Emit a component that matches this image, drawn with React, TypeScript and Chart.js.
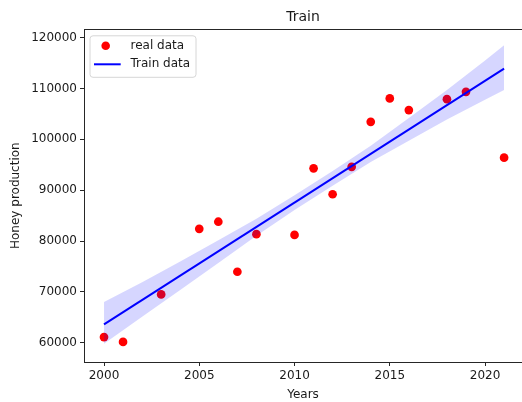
import { useEffect, useRef } from "react";
import { Chart, registerables } from "chart.js";

Chart.register(...registerables);

// Scatter data (real data)
const years = [2000, 2001, 2003, 2005, 2006, 2007, 2008, 2010, 2011, 2012, 2013, 2014, 2015, 2016, 2018, 2019, 2021];
const honeyProduction = [61100, 60150, 69500, 82400, 83800, 73950, 81350, 81200, 94300, 89200, 94600, 103450, 108050, 105750, 107900, 109350, 96400];

// Regression line (Train data)
const fitYears = [2000, 2021];
const fitValues = [63600, 113900];

// Confidence band
const bandYears = [2000, 2002, 2004, 2006, 2008, 2010, 2012, 2014, 2016, 2018, 2020, 2021];
const bandUpper = [68000, 71890, 75980, 80170, 84360, 89000, 93790, 98730, 104220, 109710, 115500, 118500];
const bandLower = [59800, 65090, 70380, 75670, 81060, 86100, 90890, 95530, 99720, 103910, 107800, 109700];

// Ticks
const xTicks = [2000, 2005, 2010, 2015, 2020];
const yTicks = [60000, 70000, 80000, 90000, 100000, 110000, 120000];

const FONT = "'DejaVu Sans', sans-serif";
const TEXT = "#1a1a1a";
const AXIS = "#262626";

const framePlugin = {
  id: "frameAndLegend",
  afterDatasetsDraw(chart: any) {
    const { ctx, chartArea } = chart;
    ctx.save();
    ctx.strokeStyle = AXIS;
    ctx.lineWidth = 1;
    const y = Math.round(chartArea.top) + 0.5;
    ctx.beginPath();
    ctx.moveTo(chartArea.left, y);
    ctx.lineTo(chart.width, y);
    ctx.stroke();
    ctx.restore();
  },
  afterDraw(chart: any) {
    const { ctx, chartArea } = chart;
    const ds = chart.data.datasets;
    const left = chartArea.left + 6;
    const top = chartArea.top + 6.5;
    const w = 106;
    const h = 41.5;
    const r = 3;
    ctx.save();
    ctx.beginPath();
    ctx.moveTo(left + r, top);
    ctx.lineTo(left + w - r, top);
    ctx.quadraticCurveTo(left + w, top, left + w, top + r);
    ctx.lineTo(left + w, top + h - r);
    ctx.quadraticCurveTo(left + w, top + h, left + w - r, top + h);
    ctx.lineTo(left + r, top + h);
    ctx.quadraticCurveTo(left, top + h, left, top + h - r);
    ctx.lineTo(left, top + r);
    ctx.quadraticCurveTo(left, top, left + r, top);
    ctx.closePath();
    ctx.fillStyle = "rgba(255,255,255,0.8)";
    ctx.fill();
    ctx.strokeStyle = "#d6d6d6";
    ctx.lineWidth = 1;
    ctx.stroke();

    // entry 1: scatter
    const y1 = top + 10;
    ctx.beginPath();
    ctx.arc(left + 15.7, y1, 4.3, 0, Math.PI * 2);
    ctx.fillStyle = ds[3].pointBackgroundColor;
    ctx.fill();
    ctx.font = `12px ${FONT}`;
    ctx.fillStyle = TEXT;
    ctx.textBaseline = "middle";
    ctx.textAlign = "left";
    ctx.fillText(ds[3].label, left + 40.5, y1);

    // entry 2: line
    const y2 = top + 28.5;
    ctx.beginPath();
    ctx.moveTo(left + 4, y2);
    ctx.lineTo(left + 30.7, y2);
    ctx.strokeStyle = ds[2].borderColor;
    ctx.lineWidth = 2;
    ctx.stroke();
    ctx.fillStyle = TEXT;
    ctx.fillText(ds[2].label, left + 40.5, y2);
    ctx.restore();
  },
};

export default function App() {
  const ref = useRef<HTMLCanvasElement | null>(null);

  useEffect(() => {
    if (!ref.current) return;
    const chart = new Chart(ref.current, {
      type: "line",
      data: {
        datasets: [
          {
            label: "band upper",
            data: bandYears.map((x, i) => ({ x, y: bandUpper[i] })),
            borderWidth: 0,
            borderColor: "rgba(0,0,0,0)",
            pointRadius: 0,
            fill: "+1",
            backgroundColor: "rgba(0,0,255,0.16)",
            tension: 0,
          },
          {
            label: "band lower",
            data: bandYears.map((x, i) => ({ x, y: bandLower[i] })),
            borderWidth: 0,
            borderColor: "rgba(0,0,0,0)",
            pointRadius: 0,
            fill: false,
            tension: 0,
          },
          {
            label: "Train data",
            data: fitYears.map((x, i) => ({ x, y: fitValues[i] })),
            borderColor: "#0000ff",
            borderWidth: 2,
            pointRadius: 0,
            fill: false,
            tension: 0,
          },
          {
            label: "real data",
            data: years.map((x, i) => ({ x, y: honeyProduction[i] })),
            showLine: false,
            pointRadius: 4.35,
            pointBorderWidth: 0,
            pointBackgroundColor: "#ff0000",
            pointBorderColor: "#ff0000",
            backgroundColor: "#ff0000",
            fill: false,
          },
        ] as any,
      },
      plugins: [framePlugin],
      options: {
        responsive: false,
        animation: false,
        devicePixelRatio: 1,
        layout: { autoPadding: false, padding: { left: 0, right: 0, top: 0, bottom: 0 } },
        plugins: {
          legend: { display: false },
          tooltip: { enabled: false },
          title: {
            display: true,
            text: "Train",
            fullSize: false,
            color: TEXT,
            font: { family: FONT, size: 14, weight: "normal" },
            padding: { top: 9, bottom: 3.5 },
          },
        },
        scales: {
          x: {
            type: "linear",
            min: 1998.95,
            max: 2021.94,
            afterBuildTicks: (s: any) => {
              s.ticks = xTicks.map((v) => ({ value: v }));
            },
            afterFit: (s: any) => {
              s.height = 40;
              s.paddingLeft = 0;
              s.paddingRight = 0;
            },
            ticks: {
              callback: (v: any) => String(v),
              color: TEXT,
              font: { family: FONT, size: 12 },
              padding: 3,
              maxRotation: 0,
              autoSkip: false,
            },
            grid: {
              display: true,
              drawOnChartArea: false,
              drawTicks: true,
              tickLength: 4,
              color: AXIS,
            },
            border: { display: true, color: AXIS, width: 1 },
            title: {
              display: true,
              text: "Years",
              color: TEXT,
              font: { family: FONT, size: 12 },
              padding: { top: 0, bottom: 0 },
            },
          },
          y: {
            type: "linear",
            min: 56200,
            max: 121650,
            afterBuildTicks: (s: any) => {
              s.ticks = yTicks.map((v) => ({ value: v }));
            },
            afterFit: (s: any) => {
              s.width = 84;
              s.paddingTop = 0;
              s.paddingBottom = 0;
            },
            ticks: {
              callback: (v: any) => String(v),
              color: TEXT,
              font: { family: FONT, size: 12 },
              padding: 3,
            },
            grid: {
              display: true,
              drawOnChartArea: false,
              drawTicks: true,
              tickLength: 4,
              color: AXIS,
            },
            border: { display: true, color: AXIS, width: 1 },
            title: {
              display: true,
              text: "Honey production",
              color: TEXT,
              font: { family: FONT, size: 12 },
              padding: { top: 9, bottom: 0 },
            },
          },
        },
      } as any,
    });
    return () => chart.destroy();
  }, []);

  return (
    <div style={{ position: "fixed", left: 0, top: 0, width: 522, height: 402, background: "#fff" }}>
      <canvas ref={ref} width={522} height={402} style={{ display: "block" }} />
    </div>
  );
}
